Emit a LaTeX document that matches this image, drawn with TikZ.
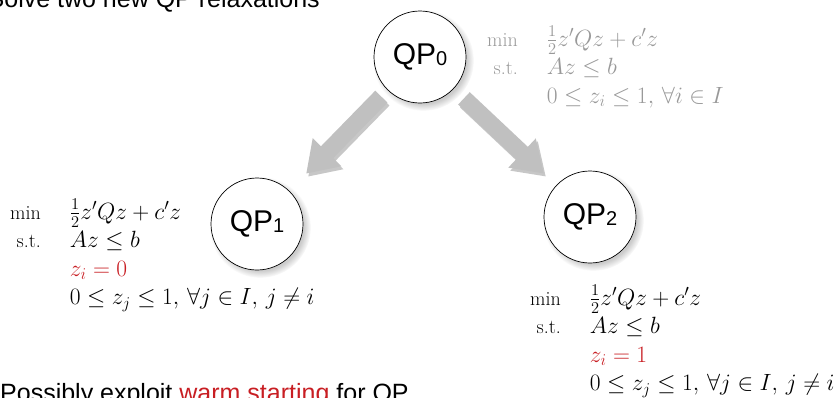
\RequirePackage{fix-cm}
\documentclass[tikz,border=0pt]{standalone}
\usepackage{amsmath, amssymb}
\usepackage{fontspec}
\newfontfamily\qpfont{Liberation Sans}
\usetikzlibrary{arrows.meta, shadows, positioning}
\definecolor{fixred}{RGB}{200,30,35}
\definecolor{arrowgray}{RGB}{192,192,192}
\newcommand{\qpname}[1]{QP{\fontsize{20}{20}\selectfont\raisebox{-1pt}{#1}}}
\newcommand{\rowlabel}[1]{\text{\fontsize{20}{20}\selectfont #1}}

\tikzset{
  qpnode/.style={circle, draw, line width=0.7pt, fill=white, minimum size=92pt, inner sep=0pt,
    font=\qpfont\fontsize{30}{30}\selectfont,
    circular drop shadow={shadow xshift=3pt, shadow yshift=-3pt, opacity=0.4}},
  bigarrow/.style={line width=17pt, draw=arrowgray, -{Triangle[width=38pt, length=30pt]}},
  arrowshade/.style={bigarrow, draw=black!22, transform canvas={shift={(2pt,-3pt)}}},
  problem/.style={anchor=base west, inner sep=0pt, font=\fontsize{23.5}{28.5}\selectfont},
  slidetext/.style={inner sep=0pt, font=\qpfont\fontsize{25}{25}\selectfont}
}

\begin{document}
\begin{tikzpicture}[x=1pt, y=-1pt]
	\useasboundingbox (0,0) rectangle (838,397);
	\clip (0,0) rectangle (838,397);
	% Slide text, cut by the frame:
	\node[slidetext, anchor=base east] (heading) at (320,7) {Solve two new QP relaxations};
	\node[slidetext, anchor=base west] (hint) at (0,401) {Possibly exploit \textcolor{fixred}{warm starting} for QP};
	% Tree nodes:
	\node[qpnode] (qp0) at (420,57) {\qpname{0}};
	\node[qpnode] (qp1) at (257,224) {\qpname{1}};
	\node[qpnode] (qp2) at (590,217) {\qpname{2}};
	% Branching arrows:
	\draw[arrowshade, shorten <=9pt, shorten >=24pt] (qp0) -- (qp1);
	\draw[bigarrow, shorten <=9pt, shorten >=24pt] (qp0) -- (qp1);
	\draw[arrowshade, shorten <=14pt, shorten >=17pt] (qp0) -- (qp2);
	\draw[bigarrow, shorten <=14pt, shorten >=17pt] (qp0) -- (qp2);
	% Problems:
	\node[problem, text=black!40] (prob0) at (487,46) {$\begin{array}[t]{@{}r@{\hspace{29pt}}l@{}}
		\rowlabel{min} & \tfrac{1}{2}z'Qz + c'z \\
		\rowlabel{s.t.} & Az \le b \\
		& 0 \le z_i \le 1,\,\forall i \in I
	\end{array}$};
	\node[problem] (prob1) at (10,219) {$\begin{array}[t]{@{}r@{\hspace{29pt}}l@{}}
		\rowlabel{min} & \tfrac{1}{2}z'Qz + c'z \\
		\rowlabel{s.t.} & Az \le b \\
		& {\color{fixred} z_i = 0} \\
		& 0 \le z_j \le 1,\,\forall j \in I,\, j \neq i
	\end{array}$};
	\node[problem] (prob2) at (530,305) {$\begin{array}[t]{@{}r@{\hspace{29pt}}l@{}}
		\rowlabel{min} & \tfrac{1}{2}z'Qz + c'z \\
		\rowlabel{s.t.} & Az \le b \\
		& {\color{fixred} z_i = 1} \\
		& 0 \le z_j \le 1,\,\forall j \in I,\, j \neq i
	\end{array}$};
\end{tikzpicture}
\end{document}
